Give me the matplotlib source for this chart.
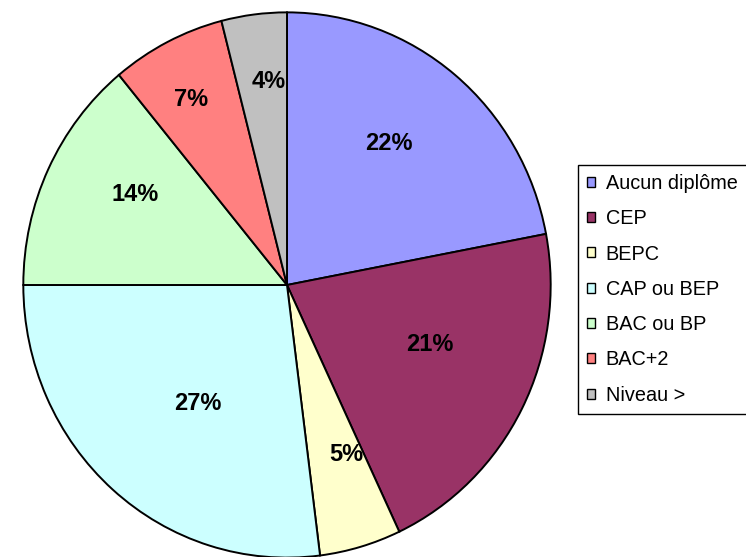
import numpy as np
import matplotlib
matplotlib.use("Agg")
import matplotlib.pyplot as plt

categories = ["Aucun diplôme", "CEP", "BEPC", "CAP ou BEP", "BAC ou BP", "BAC+2", "Niveau >"]
values = [22, 21, 5, 27, 14, 7, 4]
colors = ["#9999FF", "#993366", "#FFFFCC", "#CCFFFF", "#CCFFCC", "#FF8080", "#C0C0C0"]

# per-slice placement of the percentage labels (radius fraction, angle shift in degrees)
label_radius = [0.645, 0.583, 0.660, 0.551, 0.666, 0.772, 0.751]
label_shift = [3.0, 4.9, 3.8, 3.3, -4.7, 1.0, -2.0]

W, H = 746, 557
fig = plt.figure(figsize=(W / 100, H / 100), dpi=100)
fig.patch.set_facecolor("white")

# pie area in pixels: x 22..552, y 11..559 (slightly clipped at the bottom)
left, right, top, bottom = 22, 552, 11, 559
ax = fig.add_axes([left / W, (H - bottom) / H, (right - left) / W, (bottom - top) / H])

wedges, texts, autotexts = ax.pie(
    values,
    colors=colors,
    startangle=90,
    counterclock=False,
    autopct=lambda p: f"{p:.0f}%",
    pctdistance=0.65,
    wedgeprops=dict(edgecolor="black", linewidth=1.4),
    textprops=dict(family=["Liberation Sans", "DejaVu Sans"]),
)
for w, t, r, s in zip(wedges, autotexts, label_radius, label_shift):
    mid = np.deg2rad((w.theta1 + w.theta2) / 2 + s)
    t.set_position((r * np.cos(mid), r * np.sin(mid)))
    t.set_fontsize(17)
    t.set_fontweight("bold")
    t.set_color("black")

ax.set_aspect("auto")
ax.set_xlim(-1.005, 1.005)
ax.set_ylim(-1.005, 1.005)
ax.axis("off")

leg = fig.legend(
    wedges,
    categories,
    loc="upper left",
    bbox_to_anchor=(578 / W, 1 - 165 / H),
    bbox_transform=fig.transFigure,
    frameon=True,
    fancybox=False,
    shadow=False,
    framealpha=1,
    edgecolor="black",
    prop=dict(family=["Liberation Sans", "DejaVu Sans"], size=14.3),
    handlelength=0.4,
    handleheight=0.4,
    handletextpad=0.55,
    labelspacing=0.82,
    borderpad=0.45,
    borderaxespad=0,
)
leg.get_frame().set_linewidth(1.0)
for h in leg.legend_handles:
    h.set_edgecolor("black")
    h.set_linewidth(1.0)

fig.savefig("out.png", dpi=100)
